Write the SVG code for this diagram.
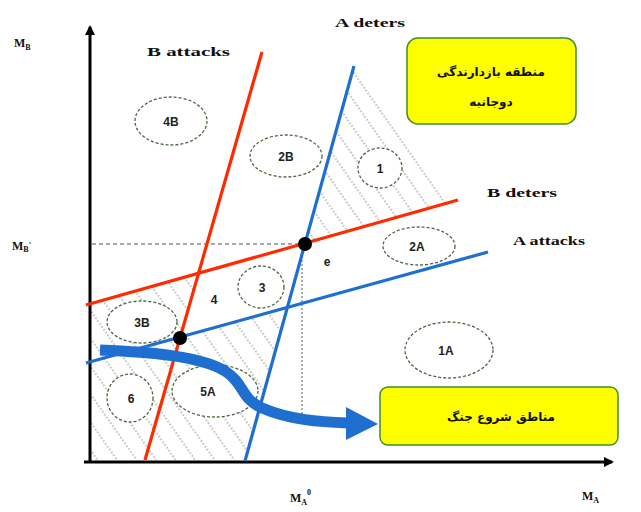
<svg xmlns="http://www.w3.org/2000/svg" width="641" height="512" viewBox="0 0 641 512">
<style>
.lbl{font-family:"Liberation Serif",serif;font-weight:bold;font-size:13px;fill:#111}
.ax{font-family:"Liberation Serif",serif;font-weight:bold;font-size:12px;fill:#111}
.el{fill:#fff;stroke:#4a6640;stroke-width:1.3;stroke-dasharray:3 2}
.et{font-family:"Liberation Sans",sans-serif;font-weight:bold;font-size:12px;fill:#222;text-anchor:middle}
.fa{font-family:"DejaVu Sans",sans-serif;font-weight:bold;font-size:12px;fill:#111;text-anchor:middle}
.box{fill:#ffff00;stroke:#3f8f2a;stroke-width:1.5}
.red{stroke:#ff2a00;stroke-width:3.2;fill:none}
.blue{stroke:#1f6fd0;stroke-width:3.2;fill:none}
</style>
<defs>
<pattern id="hatch" width="16" height="14" patternUnits="userSpaceOnUse" patternTransform="rotate(-35)">
<line x1="8" y1="0" x2="8" y2="14" stroke="#777" stroke-width="1" stroke-dasharray="1.5 2"/>
</pattern>
<marker id="axhead" markerWidth="10" markerHeight="10" refX="8" refY="5" orient="auto" markerUnits="userSpaceOnUse">
<path d="M0,0 L10,5 L0,10 Z" fill="#000"/>
</marker>
</defs>
<rect width="641" height="512" fill="#fff"/>
<g id="hatching">
<polygon points="354,66 305,243.5 458,200" fill="url(#hatch)"/>
<polygon points="90,303.9 198.5,273.3 180.3,337 287.2,307.6 245,460 90,460" fill="url(#hatch)"/>
</g>
<g id="axes">
<line x1="90" y1="462" x2="90" y2="27" stroke="#000" stroke-width="3" marker-end="url(#axhead)"/>
<line x1="84" y1="462" x2="612" y2="462" stroke="#000" stroke-width="3" marker-end="url(#axhead)"/>
<line x1="92" y1="244" x2="305" y2="244" stroke="#555" stroke-width="1.2" stroke-dasharray="4 3"/>
<line x1="302" y1="252" x2="302" y2="415" stroke="#777" stroke-width="1.2" stroke-dasharray="2 2"/>
</g>
<g id="n4B"><ellipse class="el" cx="171" cy="121" rx="36" ry="24"/><text class="et" x="171" y="126">4B</text></g>
<g id="n2B"><ellipse class="el" cx="286" cy="156" rx="36" ry="21"/><text class="et" x="286" y="161">2B</text></g>
<g id="n1"><ellipse class="el" cx="380" cy="168" rx="22" ry="20"/><text class="et" x="380" y="173" font-size="9">1</text></g>
<g id="n2A"><ellipse class="el" cx="419" cy="246" rx="36" ry="19"/><text class="et" x="417" y="251" font-size="10">2A</text></g>
<g id="n3"><ellipse class="el" cx="261" cy="287" rx="23" ry="21"/><text class="et" x="262" y="292" font-size="10">3</text></g>
<g id="n3B"><ellipse class="el" cx="142" cy="322" rx="35" ry="21"/><text class="et" x="142" y="327" font-size="10">3B</text></g>
<g id="n6"><ellipse class="el" cx="130" cy="398" rx="23" ry="24"/><text class="et" x="131" y="403" font-size="10">6</text></g>
<g id="n5A"><ellipse class="el" cx="215" cy="391" rx="43" ry="26"/><text class="et" x="208" y="396" font-size="11">5A</text></g>
<g id="n1A"><ellipse class="el" cx="449" cy="350" rx="44" ry="28"/><text class="et" x="446" y="355" font-size="11">1A</text></g>
<g id="r4"><text class="et" x="214" y="304" font-size="11">4</text></g>
<g id="pe"><text class="et" x="327" y="266" font-size="9">e</text></g>
<g id="connectors">
<line class="red" x1="262" y1="52" x2="145" y2="460"/>
<line class="red" x1="86" y1="305" x2="458" y2="200"/>
<line class="blue" x1="354" y1="66" x2="245" y2="461"/>
<line class="blue" x1="86" y1="363" x2="488" y2="252"/>
<circle cx="305" cy="244" r="7" fill="#000"/>
<circle cx="180" cy="338" r="7" fill="#000"/>
<path d="M100,350 C150,352 200,356 225,371 C245,384 240,398 262,408 C290,420 320,422 348,423" stroke="#1f6fd0" stroke-width="11" fill="none"/>
<polygon points="378,424 346,407 346,440" fill="#1f6fd0"/>
</g>
<g id="box-top">
<rect class="box" x="407" y="38" width="169" height="86" rx="11"/>
<text class="fa" x="491" y="76" direction="rtl">منطقه بازدارندگی</text>
<text class="fa" x="491" y="106" direction="rtl">دوجانبه</text>
</g>
<g id="box-bottom">
<rect class="box" x="380" y="387" width="238" height="58" rx="8"/>
<text class="fa" x="501" y="421" direction="rtl">مناطق شروع جنگ</text>
</g>
<g id="labels">
<text class="lbl" x="147" y="56" textLength="83" lengthAdjust="spacingAndGlyphs">B attacks</text>
<text class="lbl" x="335" y="27" textLength="70" lengthAdjust="spacingAndGlyphs">A deters</text>
<text class="lbl" x="487" y="197" textLength="70" lengthAdjust="spacingAndGlyphs">B deters</text>
<text class="lbl" x="513" y="245" textLength="72" lengthAdjust="spacingAndGlyphs">A attacks</text>
<text class="ax" x="14" y="47">M<tspan font-size="8" dy="3">B</tspan></text>
<text class="ax" x="12" y="250">M<tspan font-size="8" dy="2">B</tspan><tspan font-size="9" dy="-4">'</tspan></text>
<text class="ax" x="290" y="502">M<tspan font-size="8" dy="3">A</tspan><tspan font-size="8" dy="-10">0</tspan></text>
<text class="ax" x="582" y="500">M<tspan font-size="8" dy="3">A</tspan></text>
</g>
</svg>
